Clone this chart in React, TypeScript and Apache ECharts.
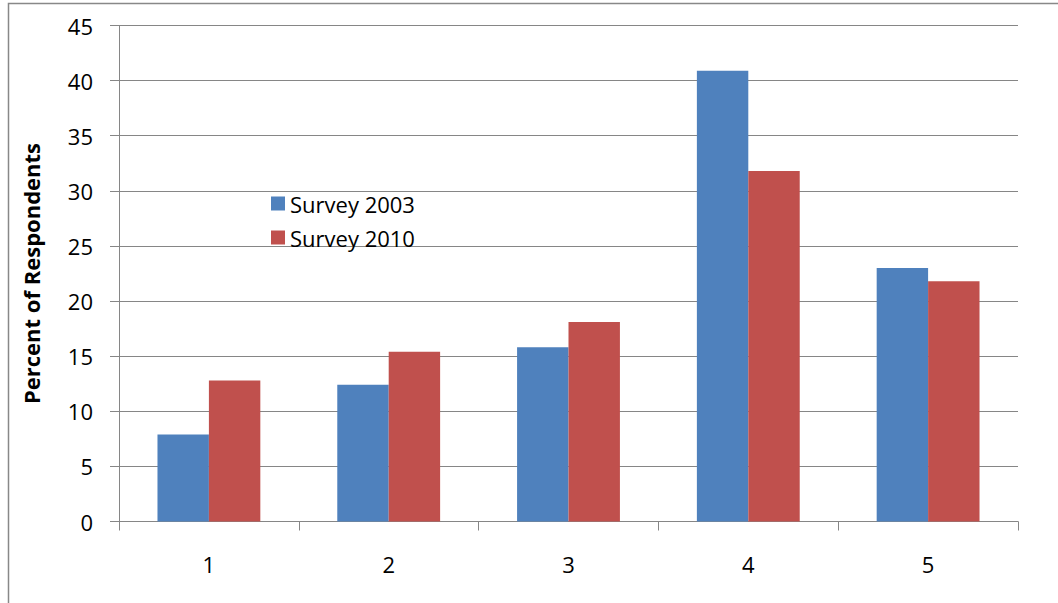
import React, { useEffect, useRef } from "react";
import * as echarts from "echarts";

// Response categories and survey results (percent of respondents)
const categories = ["1", "2", "3", "4", "5"];
const survey2003 = [7.9, 12.4, 15.8, 40.9, 23.0];
const survey2010 = [12.8, 15.4, 18.1, 31.8, 21.8];
const seriesNames = ["Survey 2003", "Survey 2010"];
const yTitle = "Percent of Respondents";

const FONT = "'Open Sans', 'Liberation Sans', sans-serif";
const AXIS_GRAY = "#868686";

export default function App() {
  const ref = useRef<HTMLDivElement>(null);

  useEffect(() => {
    if (!ref.current) return;
    const chart = echarts.init(ref.current, undefined, { renderer: "svg" });
    chart.setOption({
      animation: false,
      backgroundColor: "#ffffff",
      textStyle: { fontFamily: FONT },
      grid: { left: 119, right: 40, top: 25.5, bottom: 81.5, containLabel: false },
      legend: {
        orient: "vertical",
        left: 266,
        top: 187,
        itemWidth: 14,
        itemHeight: 14,
        itemGap: 11,
        icon: "rect",
        textStyle: { fontFamily: FONT, fontSize: 22, color: "#000", lineHeight: 23 },
        data: seriesNames,
      },
      xAxis: {
        type: "category",
        data: categories,
        axisLine: { lineStyle: { color: AXIS_GRAY, width: 1 } },
        axisTick: { show: true, length: 9, lineStyle: { color: AXIS_GRAY }, alignWithLabel: false },
        axisLabel: { fontFamily: FONT, fontSize: 22, color: "#000", margin: 31 },
      },
      yAxis: {
        type: "value",
        min: 0,
        max: 45,
        interval: 5,
        name: yTitle,
        nameLocation: "middle",
        nameGap: 77,
        nameTextStyle: { fontFamily: FONT, fontSize: 22, fontWeight: "bold", color: "#000" },
        axisLine: { show: true, lineStyle: { color: AXIS_GRAY, width: 1 } },
        axisTick: { show: true, length: 9, lineStyle: { color: AXIS_GRAY } },
        axisLabel: { fontFamily: FONT, fontSize: 22, color: "#000", margin: 26 },
        splitLine: { show: true, lineStyle: { color: AXIS_GRAY, width: 1 } },
      },
      series: [
        {
          name: seriesNames[0],
          type: "bar",
          data: survey2003,
          barWidth: "28.6%",
          barGap: "0%",
          itemStyle: { color: "#4F81BD" },
        },
        {
          name: seriesNames[1],
          type: "bar",
          data: survey2010,
          barWidth: "28.6%",
          barGap: "0%",
          itemStyle: { color: "#C0504D" },
        },
      ],
      graphic: [
        {
          type: "rect",
          silent: true,
          shape: { x: 8.5, y: 3.5, width: 1200, height: 800 },
          style: { fill: "none", stroke: "#888888", lineWidth: 1.5 },
        },
      ],
    });
    return () => chart.dispose();
  }, []);

  return (
    <div
      ref={ref}
      style={{ position: "fixed", left: 0, top: 0, width: 1058, height: 603 }}
    />
  );
}
